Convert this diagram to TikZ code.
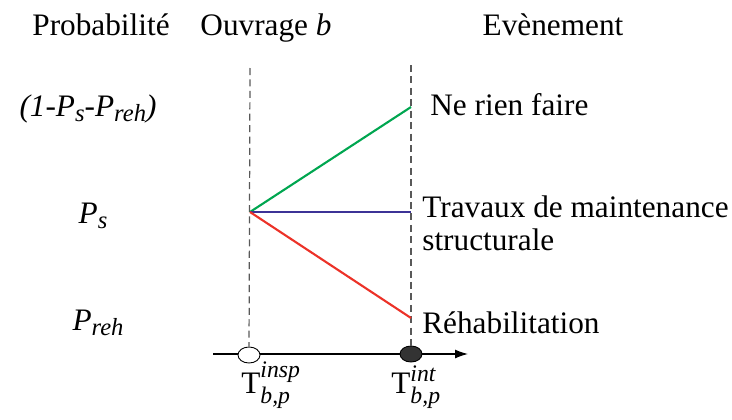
\documentclass[tikz,border=0pt]{standalone}
\usepackage{amsmath}
\usepackage{fontspec}
\setmainfont{Liberation Serif}
\usetikzlibrary{arrows.meta, positioning, shapes.geometric}

% indice et exposant en italique
\newcommand{\psub}[1]{\raisebox{-0.35ex}{\fontsize{14}{14}\selectfont\itshape #1}}
\newcommand{\tscr}[1]{\text{\fontsize{13.5}{14}\selectfont\itshape #1}}

\begin{document}
\begin{tikzpicture}[
  x=0.02cm, y=-0.02cm,
  every node/.style={font=\fontsize{17.8}{19}\selectfont},
  head/.style={anchor=base},
  proba/.style={anchor=base, font=\fontsize{17.8}{19}\selectfont\itshape},
  event/.style={anchor=base west, inner sep=0pt, align=left},
  guide/.style={dash pattern=on 4pt off 2.5pt, draw=gray!70!black, line width=0.7pt},
  branch/.style={line width=1.2pt},
  instant/.style={draw, ellipse, minimum width=0.44cm, minimum height=0.32cm, inner sep=0pt, line width=0.5pt},
  arr/.style={-{Latex[length=2.6mm, width=1.8mm]}, line width=0.7pt}
]
  \useasboundingbox (0,0) rectangle (732,419);

  % en-tetes
  \node[head] (hp) at (101,35) {Probabilité};
  \node[head] (ho) at (266,35) {Ouvrage \textit{b}};
  \node[head] (he) at (553,35) {Evènement};

  % probabilites
  \node[proba] (p1) at (88,116) {(1-P\psub{s}-P\psub{reh})};
  \node[proba] (p2) at (93,223) {P\psub{s}};
  \node[proba] (p3) at (98,330) {P\psub{reh}};

  % axe du temps
  \coordinate (ax0) at (213,354);
  \coordinate (ax1) at (468,354);
  \draw[arr] (ax0) -- (ax1);
  \node[instant, fill=white] (ti) at (249,355) {};
  \node[instant, fill=black!80] (tj) at (411,354) {};
  \node[anchor=base west, inner sep=0pt] (li) at (241,393) {$\mathrm{T}^{\tscr{insp}}_{\tscr{b,p}}$};
  \node[anchor=base west, inner sep=0pt] (lj) at (391,393) {$\mathrm{T}^{\tscr{int}}_{\tscr{b,p}}$};

  % reperes
  \coordinate (gi) at (250,68);
  \coordinate (gj) at (411,65);
  \draw[guide] (gi) -- (ti);
  \draw[guide] (gj) -- (tj);

  % branches
  \coordinate (src) at (250,212);
  \coordinate (e1) at (411,107);
  \coordinate (e2) at (411,212);
  \coordinate (e3) at (411,318);
  \draw[branch, draw={rgb,255:red,0;green,166;blue,80}] (src) -- (e1);
  \draw[branch, draw={rgb,255:red,60;green,50;blue,150}] (src) -- (e2);
  \draw[branch, draw={rgb,255:red,236;green,50;blue,40}] (src) -- (e3);

  % evenements
  \node[event] (n1) at (430,115) {Ne rien faire};
  \node[event] (n2) at (422,217) {Travaux de maintenance};
  \node[event] (n3) at (422,250) {structurale};
  \node[event] (n4) at (422,333) {Réhabilitation};
\end{tikzpicture}
\end{document}
